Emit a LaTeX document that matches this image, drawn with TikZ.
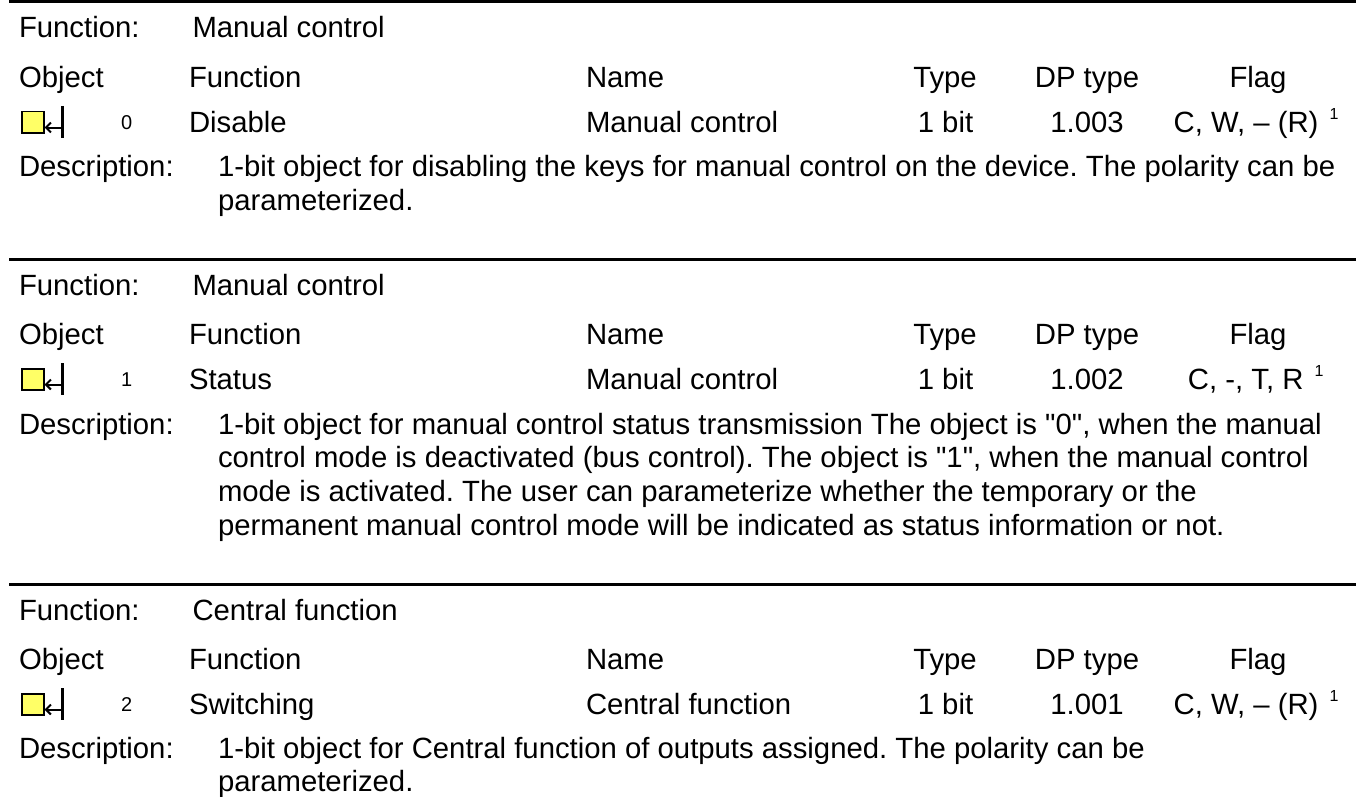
\documentclass[tikz,border=0pt]{standalone}
\usepackage{fontspec}
\usetikzlibrary{arrows.meta}
\setmainfont[Ligatures=TeXOff]{Liberation Sans}
\definecolor{iconyellow}{RGB}{255,255,102}
\frenchspacing
\tikzset{
  x=1pt,y=-1pt,
  txt/.style={anchor=base west,inner sep=0pt,outer sep=0pt,font=\fontsize{29.3}{33}\selectfont},
  ctr/.style={anchor=base,inner sep=0pt,outer sep=0pt,font=\fontsize{29.3}{33}\selectfont},
  rgt/.style={anchor=base east,inner sep=0pt,outer sep=0pt,font=\fontsize{29.3}{33}\selectfont},
  num/.style={anchor=base,inner sep=0pt,outer sep=0pt,font=\fontsize{20}{24}\selectfont},
  rulel/.style={line width=3pt},
  icbox/.style={draw=black,line width=1.8pt,fill=iconyellow},
  icline/.style={line width=3pt},
  icarrow/.style={line width=2pt,-{Straight Barb[length=5pt,width=10pt]}}
}
\newcommand{\supone}{\hspace{3pt}\raisebox{13pt}{\fontsize{16}{20}\selectfont 1}}
\newcommand{\sect}[9]{%
  % #1 y offset, #2 function title, #3 number, #4 function, #5 name, #6 dp, #7 flag, #8 id, #9 flag right edge
  \coordinate (r#8a) at (9,#1+2); \coordinate (r#8b) at (1356,#1+2);
  \draw[rulel] (r#8a) -- (r#8b);
  \node[txt] (fa#8) at (19,#1+38) {Function:};
  \node[txt] (fb#8) at (192.5,#1+38) {#2};
  \node[txt] (oa#8) at (19,#1+87.5) {Object};
  \node[txt] (ob#8) at (189,#1+87.5) {Function};
  \node[txt] (oc#8) at (586,#1+87.5) {Name};
  \node[ctr] (od#8) at (945,#1+87.5) {Type};
  \node[ctr] (oe#8) at (1087,#1+87.5) {DP type};
  \node[ctr] (of#8) at (1258,#1+87.5) {Flag};
  \node[icbox,minimum width=22pt,minimum height=21.5pt,inner sep=0pt,anchor=north west] (ic#8) at (21,#1+110.7) {};
  \coordinate (t#8) at (62,#1+106);
  \coordinate (b#8) at (62,#1+137.7);
  \coordinate (m#8) at (62,#1+127.5);
  \draw[icline] (t#8) -- (b#8);
  \draw[icarrow] (m#8) -- (44.5,#1+127.5);
  \node[num] (n#8) at (126.7,#1+129.5) {#3};
  \node[txt] (va#8) at (189,#1+132.2) {#4};
  \node[txt] (vb#8) at (586,#1+132.2) {#5};
  \node[ctr] (vc#8) at (945.5,#1+132.2) {1 bit};
  \node[ctr] (vd#8) at (1087,#1+132.2) {#6};
  \node[rgt] (ve#8) at (#9,#1+132.2) {#7};
}
\begin{document}
\begin{tikzpicture}
\useasboundingbox (0,0) rectangle (1356,797);
\sect{0}{Manual control}{0}{Disable}{Manual control}{1.003}{C, W, – (R)\ \supone}{0}{1338.5}
\node[txt] (d0) at (19,176.8) {Description:};
\node[txt] (d01) at (218,176.8) {1-bit object for disabling the keys for manual control on the device. The polarity can be};
\node[txt] (d02) at (218,210) {parameterized.};
\sect{257}{Manual control}{1}{Status}{Manual control}{1.002}{C, -, T, R\ \supone}{1}{1323.5}
\node[txt] (d1) at (19,434) {Description:};
\node[txt] (d11) at (218,434) {1-bit object for manual control status transmission The object is "0", when the manual};
\node[txt] (d12) at (218,467.7) {control mode is deactivated (bus control). The object is "1", when the manual control};
\node[txt] (d13) at (218,501) {mode is activated. The user can parameterize whether the temporary or the};
\node[txt] (d14) at (218,535) {permanent manual control mode will be indicated as status information or not.};
\sect{582}{Central function}{2}{Switching}{Central function}{1.001}{C, W, – (R)\ \supone}{2}{1338.5}
\node[txt] (d2) at (19,758.5) {Description:};
\node[txt] (d21) at (218,758.5) {1-bit object for Central function of outputs assigned. The polarity can be};
\node[txt] (d22) at (218,791.5) {parameterized.};
\end{tikzpicture}
\end{document}
